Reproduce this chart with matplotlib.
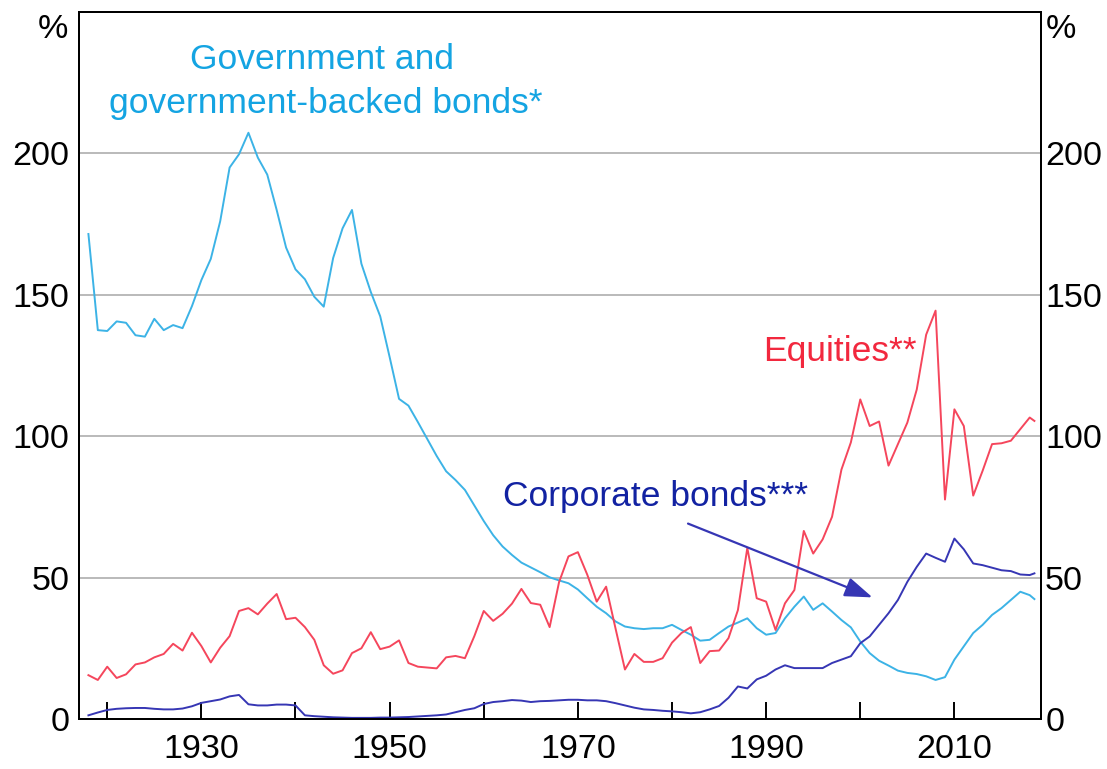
import matplotlib
matplotlib.use("Agg")
import matplotlib.pyplot as plt

plt.rcParams['font.family'] = ['Liberation Sans', 'DejaVu Sans']

years = list(range(1918, 2019)) + [2018.5]

gov_bonds = [
    171.5, 137.5,                                                     # 1918-1919
    137.2, 140.6, 140.1, 135.7, 135.2, 141.5, 137.5, 139.3, 138.2, 146.0,  # 1920s
    155.2, 162.7, 176.0, 195.0, 199.7, 207.3, 198.5, 192.5, 180.0, 166.7,  # 1930s
    159.0, 155.5, 149.3, 145.8, 163.0, 173.5, 180.0, 161.0, 151.0, 142.4,  # 1940s
    128.0, 113.2, 110.8, 105.0, 99.0, 93.0, 87.6, 84.5, 81.0, 75.5,        # 1950s
    70.0, 65.0, 61.0, 58.0, 55.3, 53.6, 51.9, 50.1, 49.0, 48.0,            # 1960s
    45.8, 42.7, 39.7, 37.4, 34.5, 32.7, 32.1, 31.8, 32.1, 32.1,            # 1970s
    33.3, 31.5, 29.8, 27.7, 28.0, 30.4, 32.7, 34.1, 35.6, 32.1,            # 1980s
    29.8, 30.4, 35.6, 39.7, 43.3, 38.6, 40.9, 38.0, 35.0, 32.4,            # 1990s
    27.4, 23.3, 20.6, 18.9, 17.1, 16.3, 15.9, 15.1, 13.8, 14.8,            # 2000s
    21.0, 25.7, 30.4, 33.3, 36.8, 39.2, 42.1, 45.0, 43.8, 42.4,            # 2010s + end
]

equities = [
    15.5, 13.8,
    18.5, 14.5, 15.8, 19.3, 20.0, 21.8, 23.0, 26.6, 24.2, 30.5,
    25.8, 20.0, 25.2, 29.3, 38.2, 39.2, 37.0, 40.8, 44.2, 35.3,
    35.8, 32.5, 28.0, 19.0, 16.0, 17.2, 23.3, 25.0, 30.7, 24.7,
    25.6, 27.8, 19.8, 18.5, 18.2, 17.9, 21.8, 22.3, 21.5, 29.3,
    38.2, 34.7, 37.2, 40.8, 46.0, 41.0, 40.4, 32.5, 48.4, 57.5,
    59.0, 51.0, 41.5, 46.8, 32.0, 17.5, 23.0, 20.2, 20.2, 21.5,
    27.0, 30.4, 32.5, 19.8, 24.0, 24.2, 28.6, 38.5, 60.5, 42.7,
    41.5, 31.5, 40.9, 45.6, 66.5, 58.5, 63.5, 71.5, 88.2, 97.8,
    113.0, 103.6, 105.2, 89.6, 97.2, 104.8, 116.5, 135.9, 144.4, 77.6,
    109.5, 103.6, 79.0, 87.8, 97.2, 97.5, 98.4, 102.5, 106.6, 105.4,
]

corp_bonds = [
    1.3, 2.3,
    3.2, 3.6, 3.8, 3.9, 3.9, 3.6, 3.4, 3.4, 3.7, 4.5,
    5.7, 6.3, 6.9, 8.0, 8.5, 5.2, 4.8, 4.8, 5.1, 5.1,
    4.8, 1.3, 1.0, 0.8, 0.6, 0.5, 0.4, 0.4, 0.4, 0.5,
    0.5, 0.6, 0.7, 0.9, 1.1, 1.3, 1.6, 2.4, 3.2, 3.8,
    5.3, 6.0, 6.3, 6.7, 6.5, 6.0, 6.3, 6.4, 6.6, 6.8,
    6.8, 6.6, 6.6, 6.3, 5.6, 4.8, 4.0, 3.4, 3.2, 2.9,
    2.7, 2.4, 2.0, 2.4, 3.4, 4.6, 7.5, 11.5, 10.8, 14.0,
    15.3, 17.5, 19.0, 18.0, 18.0, 18.0, 18.0, 19.8, 21.0, 22.2,
    26.8, 29.2, 33.3, 37.4, 42.1, 48.5, 53.8, 58.5, 57.0, 55.6,
    63.8, 60.0, 55.0, 54.4, 53.5, 52.6, 52.3, 51.1, 50.9, 51.5,
]

assert len(years) == len(gov_bonds) == len(equities) == len(corp_bonds)

y_ticks = [0, 50, 100, 150, 200]
x_ticks = list(range(1920, 2020, 10))
x_labels = ['' if y % 20 == 0 else str(y) for y in x_ticks]

c_gov, c_gov_txt = '#3cb3e6', '#14a4e2'
c_eq, c_eq_txt = '#f5465c', '#f2283e'
c_corp, c_corp_txt = '#3636b4', '#1222a2'

fig = plt.figure(figsize=(11.07, 7.69), dpi=100)
ax = fig.add_axes([79/1107, 1 - 719/769, (1041 - 79)/1107, (719 - 12)/769])

ax.set_xlim(1917, 2019.2)
ax.set_ylim(0, 250)

for v in y_ticks[1:]:
    ax.axhline(v, color='#b4b4b4', lw=1.3, zorder=1)

ax.plot(years, gov_bonds, color=c_gov, lw=1.4, zorder=3)
ax.plot(years, equities, color=c_eq, lw=1.4, zorder=3)
ax.plot(years, corp_bonds, color=c_corp, lw=1.4, zorder=3)

fs = 24.5
fl = 25.5
ax.set_xticks(x_ticks)
ax.set_xticklabels(x_labels)
ax.tick_params(axis='x', direction='in', length=12, width=1.4, labelsize=fs, pad=11, color='black')
ax.set_yticks(y_ticks)
ax.tick_params(axis='y', length=0, labelsize=fs, pad=7, left=True, right=False,
               labelleft=True, labelright=False)
ax2 = ax.twinx()
ax2.set_ylim(ax.get_ylim())
ax2.set_yticks(y_ticks)
ax2.tick_params(axis='y', length=0, labelsize=fs, pad=3)
for a in (ax, ax2):
    for s in a.spines.values():
        s.set_linewidth(1.4)
        s.set_color('black')

ax.text(-0.011, 0.975, '%', transform=ax.transAxes, ha='right', va='center', fontsize=fs)
ax.text(1.005, 0.975, '%', transform=ax.transAxes, ha='left', va='center', fontsize=fs)

ax.text(1942.8, 233.2, 'Government and', color=c_gov_txt, fontsize=fl, ha='center', va='center', zorder=4)
ax.text(1943.2, 217.6, 'government-backed bonds*', color=c_gov_txt, fontsize=fl, ha='center', va='center', zorder=4)
ax.text(1997.8, 130, 'Equities**', color=c_eq_txt, fontsize=fl, ha='center', va='center', zorder=4)
ax.text(1978.2, 78.8, 'Corporate bonds***', color=c_corp_txt, fontsize=fl, ha='center', va='center', zorder=4)

ax.annotate('', xy=(2001.3, 43), xytext=(1981.7, 69.1),
            arrowprops=dict(arrowstyle='-|>,head_length=1.7,head_width=0.6',
                            color=c_corp, lw=1.6, shrinkA=0, shrinkB=0), zorder=4)

fig.savefig('out.png', dpi=100)
